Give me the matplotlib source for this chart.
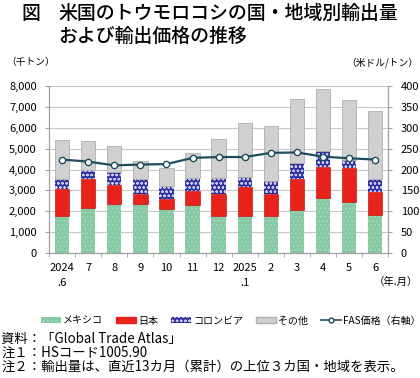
import numpy as np
import matplotlib
matplotlib.use('Agg')
import matplotlib.pyplot as plt
from matplotlib.patches import Patch
from matplotlib.lines import Line2D

plt.rcParams['font.family'] = ['Noto Sans CJK JP', 'DejaVu Sans']
plt.rcParams['hatch.linewidth'] = 0.6

months = ['2024\n.6', '7', '8', '9', '10', '11', '12', '2025\n.1', '2', '3', '4', '5', '6']
# export volume (thousand tons)
mexico   = [1760, 2140, 2360, 2350, 2090, 2280, 1790, 1770, 1790, 2080, 2620, 2430, 1840]
japan    = [1290, 1390,  880,  490,  500,  680, 1050, 1380, 1020, 1480, 1490, 1660, 1100]
colombia = [ 480,  430,  620,  690,  610,  620,  770,  510,  620,  770,  770,  350,  610]
others   = [1870, 1420, 1280,  860,  860, 1230, 1850, 2550, 2650, 3070, 2970, 2910, 3240]
# FAS price (USD/ton, right axis)
fas = [224, 219, 210, 212, 213, 228, 230, 230, 240, 241, 231, 227, 224]

c_mex = '#86c9a3'
c_jpn = '#e8231b'
c_col = '#2c2f9c'
c_oth = '#d0d0d0'
c_line = '#1f4d60'

fig = plt.figure(figsize=(4.2, 3.78), dpi=100)
ax = fig.add_axes([0.117, 0.331, 0.807, 0.441])

x = np.arange(len(months))
w = 0.55
b1 = np.array(mexico)
b2 = b1 + np.array(japan)
b3 = b2 + np.array(colombia)

ax.bar(x, mexico, w, color=c_mex, linewidth=0, zorder=2)
ax.bar(x, mexico, w, color='none', edgecolor='#a8dcbf', hatch='....', linewidth=0, zorder=2)
ax.bar(x, japan, w, bottom=b1, color=c_jpn, edgecolor='#c81810', linewidth=0.5, zorder=2)
ax.bar(x, colombia, w, bottom=b2, color=c_col, linewidth=0, zorder=2)
ax.bar(x, colombia, w, bottom=b2, color='none', edgecolor='#c8c8f0', hatch='oooo', linewidth=0, zorder=2)
ax.bar(x, others, w, bottom=b3, color=c_oth, edgecolor='#b0b0b0', linewidth=0.6, zorder=2)

ax.set_xlim(-0.5, len(months) - 0.5)
ax.set_ylim(0, 8000)
ax.set_yticks(np.arange(0, 8001, 1000))
ax.set_yticklabels([f'{v:,}' for v in range(0, 8001, 1000)])
ax.yaxis.grid(True, color='#c8c8c8', linewidth=0.8, zorder=0)
ax.set_axisbelow(True)
ax.set_xticks(x)
ax.set_xticklabels(months, linespacing=1.7, va='top')
ax.set_xticks(np.arange(-0.5, len(months), 1), minor=True)
ax.tick_params(axis='x', which='major', length=0, pad=7)
ax.tick_params(axis='x', which='minor', length=3, color='#a0a0a0')
ax.tick_params(axis='y', length=3, color='#a0a0a0', pad=6)
ax.tick_params(labelsize=8)
ax.spines['top'].set_visible(False)
for s in ['left', 'right', 'bottom']:
    ax.spines[s].set_color('#a0a0a0')
    ax.spines[s].set_linewidth(0.8)

ax2 = ax.twinx()
ax2.set_ylim(0, 400)
ax2.set_yticks(np.arange(0, 401, 50))
ax2.plot(x, fas, color=c_line, linewidth=1.6, marker='o', markersize=4.5,
         markerfacecolor='white', markeredgecolor=c_line, markeredgewidth=1, zorder=5)
ax2.tick_params(axis='y', length=3, color='#a0a0a0', labelsize=8, pad=6)
ax2.spines['top'].set_visible(False)
for s in ['left', 'right', 'bottom']:
    ax2.spines[s].set_color('#a0a0a0')
    ax2.spines[s].set_linewidth(0.8)

fig.text(0.05, 0.965, '図', fontsize=13.6, fontweight='medium', va='center')
fig.text(0.138, 0.965, '米国のトウモロコシの国・地域別輸出量', fontsize=13.6, fontweight='medium', va='center')
fig.text(0.138, 0.905, 'および輸出価格の推移', fontsize=13.6, fontweight='medium', va='center')

fig.text(0.015, 0.835, '（千トン）', fontsize=7, va='center')
fig.text(0.995, 0.835, '（米ドル/トン）', fontsize=7, va='center', ha='right')
fig.text(0.995, 0.255, '（年.月）', fontsize=7.5, va='center', ha='right')

handles = [
    Patch(facecolor=c_mex, edgecolor='#a8dcbf', hatch='....', linewidth=0),
    Patch(facecolor=c_jpn, edgecolor=c_jpn),
    Patch(facecolor=c_col, edgecolor='#c8c8f0', hatch='oooo', linewidth=0),
    Patch(facecolor=c_oth, edgecolor='#b0b0b0'),
    Line2D([0], [0], color=c_line, marker='o', markersize=3.5, markerfacecolor='white', linewidth=1.2),
]
labels = ['メキシコ', '日本', 'コロンビア', 'その他', 'FAS価格（右軸）']
fig.legend(handles, labels, loc='center', bbox_to_anchor=(0.55, 0.152), ncol=5, frameon=False,
           fontsize=7.2, handlelength=2.0, handleheight=0.6, handletextpad=0.2, columnspacing=1.3)

notes = ['資料：「Global Trade Atlas」', '注１：HSコード1005.90',
         '注２：輸出量は、直近13カ月（累計）の上位３カ国・地域を表示。']
for i, t in enumerate(notes):
    fig.text(0.003, 0.103 - i * 0.036, t, fontsize=9.6, va='center')

fig.savefig('out.png', dpi=100)
